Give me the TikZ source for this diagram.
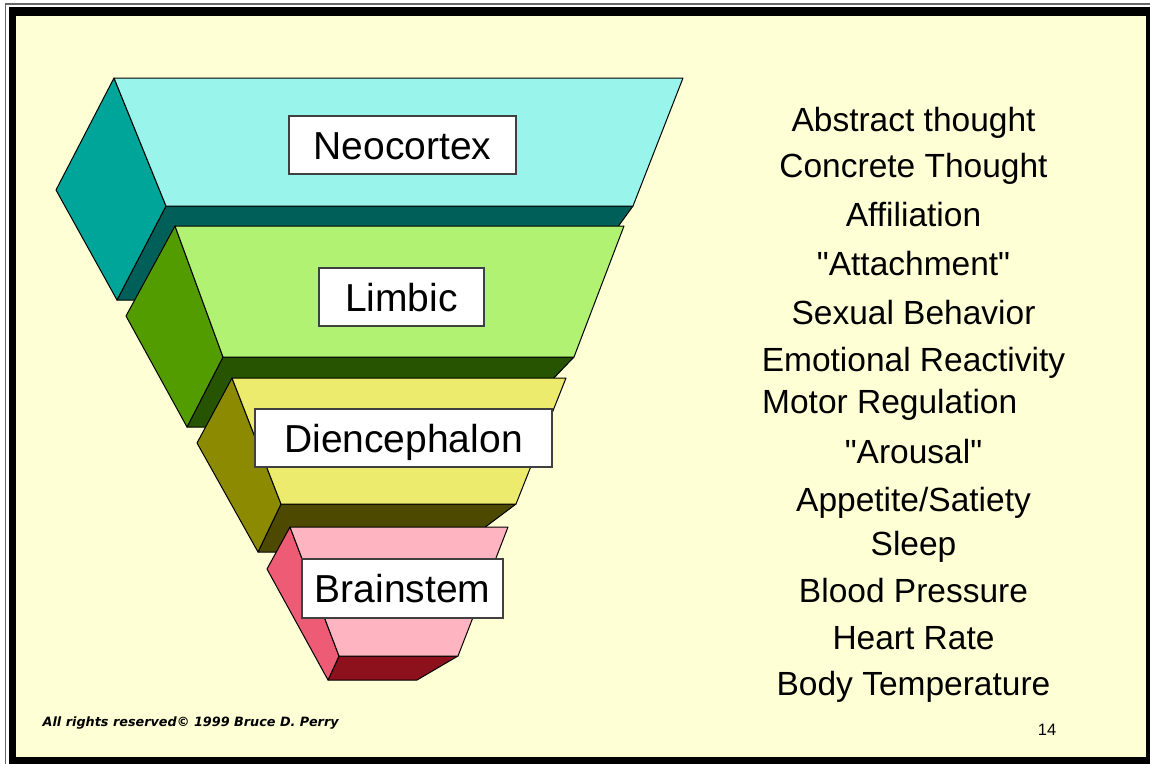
\documentclass[tikz,border=0pt]{standalone}
\usepackage{fontspec}
\setmainfont{Liberation Sans}
\newfontfamily\itemfont{Liberation Sans}
\newfontfamily\footfont{DejaVu Sans}
\definecolor{bgy}{RGB}{255,255,214}
\definecolor{neoF}{RGB}{153,245,236}
\definecolor{neoL}{RGB}{0,165,154}
\definecolor{neoB}{RGB}{0,96,89}
\definecolor{limF}{RGB}{178,242,115}
\definecolor{limL}{RGB}{82,156,0}
\definecolor{limB}{RGB}{38,84,0}
\definecolor{dieF}{RGB}{237,235,110}
\definecolor{dieL}{RGB}{140,138,0}
\definecolor{dieB}{RGB}{77,74,0}
\definecolor{bsF}{RGB}{255,181,193}
\definecolor{bsL}{RGB}{237,92,116}
\definecolor{bsB}{RGB}{140,17,29}
\tikzset{
  face/.style={draw=black, line width=1pt, line join=round},
  lbl/.style={draw=black!75, line width=1.2pt, fill=white, inner sep=0pt,
    font=\fontsize{39}{44}\selectfont, text height=28pt, text depth=0pt},
  item/.style={font=\itemfont\fontsize{33.5}{38}\selectfont, anchor=base, inner sep=0pt},
}
\begin{document}
\begin{tikzpicture}[x=1pt,y=-1pt]
\useasboundingbox (0,0) rectangle (1150,763);
% frame
\fill[white] (0,0) rectangle (1150,763);
\draw[black!60, line width=1.2pt] (5.5,800) |- (1200,4);
\fill[black] (9,7) rectangle (1170,780);
\fill[bgy] (15.5,15.5) rectangle (1146,757);
% Neocortex
\filldraw[face, fill=neoB] (166,206) -- (633,206) -- (565,300) -- (117,300) -- cycle;
\filldraw[face, fill=neoL] (114,78) -- (56,190) -- (117,300) -- (166,206) -- cycle;
\filldraw[face, fill=neoF] (114,78) -- (683,78) -- (633,206) -- (166,206) -- cycle;
% Limbic
\filldraw[face, fill=limB] (223,357) -- (574,357) -- (507,427) -- (187,427) -- cycle;
\filldraw[face, fill=limL] (175,226) -- (126,316) -- (187,427) -- (223,357) -- cycle;
\filldraw[face, fill=limF] (175,226) -- (624,226) -- (574,357) -- (223,357) -- cycle;
% Diencephalon
\filldraw[face, fill=dieB] (281,504) -- (516,504) -- (452,552) -- (258,552) -- cycle;
\filldraw[face, fill=dieL] (232,378) -- (197,443) -- (258,552) -- (281,504) -- cycle;
\filldraw[face, fill=dieF] (232,378) -- (566,378) -- (516,504) -- (281,504) -- cycle;
% Brainstem
\filldraw[face, fill=bsB] (339,656) -- (458,656) -- (417,680) -- (328,680) -- cycle;
\filldraw[face, fill=bsL] (290,527) -- (267,569) -- (328,680) -- (339,656) -- cycle;
\filldraw[face, fill=bsF] (290,527) -- (508,527) -- (458,656) -- (339,656) -- cycle;
% labels
\node[lbl, minimum width=227pt, minimum height=58pt] (neo) at (402.5,145) {Neocortex};
\node[lbl, minimum width=165pt, minimum height=58pt] (lim) at (401.5,297) {Limbic};
\node[lbl, minimum width=297pt, minimum height=58pt] (die) at (403.5,438) {Diencephalon};
\node[lbl, minimum width=201pt, minimum height=59pt] (bs) at (402.5,588.5) {Brainstem};
% functions list
\node[item] (f1) at (913.5,131) {Abstract thought};
\node[item] (f2) at (913.5,177.7) {Concrete Thought};
\node[item] (f3) at (913.5,226.7) {Affiliation};
\node[item] (f4) at (913.5,275) {"Attachment"};
\node[item] (f5) at (913.5,324) {Sexual Behavior};
\node[item] (f6) at (913.5,371.7) {Emotional Reactivity};
\node[item, anchor=base west] (f7) at (762,413.3) {Motor Regulation};
\node[item] (f8) at (913.5,463) {"Arousal"};
\node[item] (f9) at (913.5,511.7) {Appetite/Satiety};
\node[item] (f10) at (913.5,555) {Sleep};
\node[item] (f11) at (913.5,602.7) {Blood Pressure};
\node[item] (f12) at (913.5,649.3) {Heart Rate};
\node[item] (f13) at (913.5,695) {Body Temperature};
% footer
\node[anchor=base west, inner sep=0pt, font=\footfont\fontsize{12.8}{15}\selectfont\bfseries\itshape] (copy) at (42.5,726) {All rights reserved© 1999 Bruce D. Perry};
\node[anchor=base, inner sep=0pt, font=\fontsize{16.5}{19}\selectfont] (page) at (1047,735) {14};
\end{tikzpicture}
\end{document}
